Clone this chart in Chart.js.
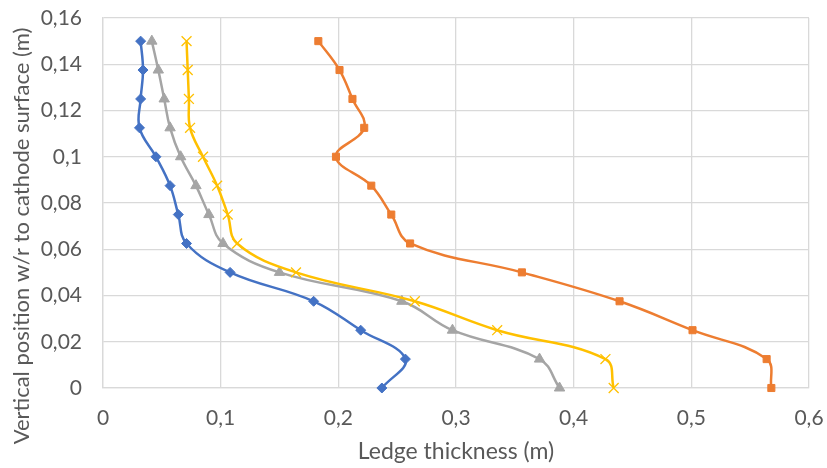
<!DOCTYPE html>
<html>
<head>
<meta charset="utf-8">
<script src="https://cdn.jsdelivr.net/npm/chart.js@4/dist/chart.umd.min.js"></script>
<style>
  html, body { margin: 0; padding: 0; background: #fff; }
  #wrap { width: 827px; height: 468px; }
</style>
</head>
<body>
<div id="wrap"><canvas id="ledgeChart" width="827" height="468"></canvas></div>
<script>
// vertical positions (m), bottom to top
const heights = [0, 0.0125, 0.025, 0.0375, 0.05, 0.0625, 0.075, 0.0875, 0.1, 0.1125, 0.125, 0.1375, 0.15];

// ledge thickness (m) at each height
const seriesBlue = [0.237, 0.257, 0.219, 0.179, 0.108, 0.071, 0.064, 0.057, 0.045, 0.031, 0.032, 0.034, 0.032];
const seriesOrange = [0.568, 0.564, 0.501, 0.439, 0.356, 0.261, 0.245, 0.228, 0.198, 0.222, 0.212, 0.201, 0.183];
const seriesGray = [0.388, 0.371, 0.297, 0.254, 0.150, 0.102, 0.090, 0.079, 0.066, 0.057, 0.052, 0.047, 0.0415];
const seriesYellow = [0.434, 0.427, 0.335, 0.265, 0.164, 0.114, 0.106, 0.097, 0.085, 0.074, 0.073, 0.072, 0.071];

const xTicks = [0, 0.1, 0.2, 0.3, 0.4, 0.5, 0.6];
const yTicks = [0, 0.02, 0.04, 0.06, 0.08, 0.1, 0.12, 0.14, 0.16];

const xTitle = 'Ledge thickness (m)';
const yTitle = 'Vertical position w/r to cathode surface (m)';

const textColor = '#595959';
const gridColor = '#d9d9d9';
const tickFont = { family: 'Lato, sans-serif', size: 21 };
const titleFont = { family: 'Lato, sans-serif', size: 23 };
const yTitleSize = 22;

function toPoints(xs) {
  return xs.map((x, i) => ({ x, y: heights[i] }));
}

function commaNum(v, digits) {
  return String(parseFloat(Number(v).toFixed(digits))).replace('.', ',');
}

function makeSet(label, values, color, style, radius, order) {
  return {
    label,
    data: toPoints(values),
    showLine: true,
    borderColor: color,
    backgroundColor: color,
    borderWidth: 2.5,
    tension: 0.4,
    pointStyle: style,
    pointRadius: radius,
    pointBorderColor: color,
    pointBackgroundColor: color,
    pointBorderWidth: style === 'crossRot' ? 1.3 : 1,
    clip: false,
    order,
  };
}

// y title sits centred on the whole canvas height, not on the plot area
const yTitlePlugin = {
  id: 'yTitle',
  afterDraw(chart) {
    const c = chart.ctx;
    c.save();
    c.translate(22, 236);
    c.rotate(-Math.PI / 2);
    c.fillStyle = textColor;
    c.font = `${yTitleSize}px ${titleFont.family}`;
    c.textAlign = 'center';
    c.textBaseline = 'middle';
    c.fillText(yTitle, 0, 0);
    c.restore();
  },
};

const ctx = document.getElementById('ledgeChart').getContext('2d');
new Chart(ctx, {
  type: 'scatter',
  data: {
    datasets: [
      makeSet('Series 1', seriesBlue, '#4472C4', 'rectRot', 5, 4),
      makeSet('Series 2', seriesOrange, '#ED7D31', 'rect', 5, 3),
      makeSet('Series 3', seriesGray, '#A5A5A5', 'triangle', 6, 2),
      makeSet('Series 4', seriesYellow, '#FFC000', 'crossRot', 7, 1),
    ],
  },
  plugins: [yTitlePlugin],
  options: {
    responsive: false,
    animation: false,
    layout: { padding: { top: 18, right: 18, left: 0, bottom: 3 } },
    plugins: {
      legend: { display: false },
      tooltip: { enabled: false },
    },
    scales: {
      x: {
        type: 'linear',
        min: 0,
        max: 0.6,
        afterBuildTicks: (scale) => { scale.ticks = xTicks.map(v => ({ value: v })); },
        afterFit: (scale) => {
          scale.height = 77;
          scale.paddingLeft = 0;
          scale.paddingRight = 0;
        },
        ticks: {
          color: textColor,
          font: tickFont,
          padding: 18,
          callback: (v) => commaNum(v, 1),
        },
        grid: { color: gridColor, lineWidth: 1.3, drawTicks: false },
        border: { color: gridColor, width: 1.3 },
        title: {
          display: true,
          text: xTitle,
          color: textColor,
          font: titleFont,
          padding: { top: 0, bottom: 0 },
        },
      },
      y: {
        type: 'linear',
        min: 0,
        max: 0.16,
        afterBuildTicks: (scale) => { scale.ticks = yTicks.map(v => ({ value: v })); },
        afterFit: (scale) => {
          scale.width = 103;
          scale.paddingTop = 0;
          scale.paddingBottom = 0;
        },
        ticks: {
          color: textColor,
          font: tickFont,
          padding: 21,
          callback: (v) => commaNum(v, 2),
        },
        grid: { color: gridColor, lineWidth: 1.3, drawTicks: false },
        border: { color: gridColor, width: 1.3 },
      },
    },
  },
});
</script>
</body>
</html>
